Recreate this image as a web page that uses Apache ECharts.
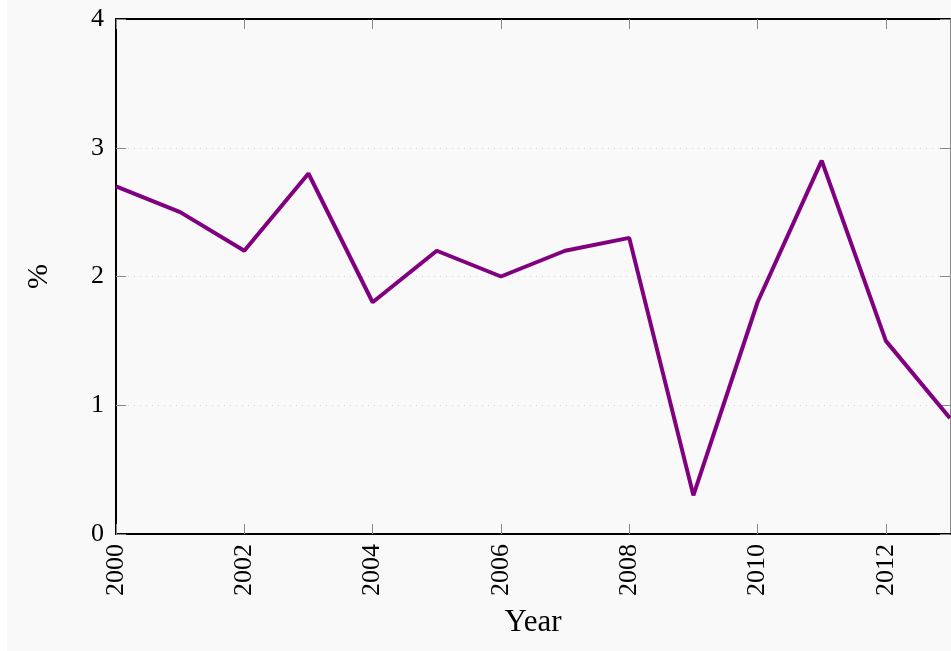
<!DOCTYPE html>
<html>
<head>
<meta charset="utf-8">
<script src="https://cdn.jsdelivr.net/npm/echarts@6/dist/echarts.min.js"></script>
<style>
  html, body { margin: 0; padding: 0; background: #ffffff; }
  #chart { position: absolute; left: 7px; top: 0; width: 944px; height: 651px; }
</style>
</head>
<body>
<div id="chart"></div>
<script>
// data
const years = [2000, 2001, 2002, 2003, 2004, 2005, 2006, 2007, 2008, 2009, 2010, 2011, 2012, 2013];
const values = [2.7, 2.5, 2.2, 2.8, 1.8, 2.2, 2.0, 2.2, 2.3, 0.3, 1.8, 2.9, 1.5, 0.9];
const yTicks = [0, 1, 2, 3, 4];

const serif = '"Liberation Serif", "DejaVu Serif", serif';
const chart = echarts.init(document.getElementById('chart'));

const tickStyle = { show: true, inside: true, length: 10, lineStyle: { color: '#888', width: 1 } };

chart.setOption({
  backgroundColor: '#f9f9f9',
  animation: false,
  grid: { left: 109, right: 1, top: 19, bottom: 117 },
  xAxis: [
    {
      type: 'value',
      min: years[0],
      max: years[years.length - 1],
      interval: 2,
      name: 'Year',
      nameLocation: 'middle',
      nameGap: 73,
      nameTextStyle: { fontFamily: serif, fontSize: 31, color: '#000' },
      axisLine: { show: true, onZero: false, lineStyle: { color: '#000', width: 2 } },
      axisTick: tickStyle,
      splitLine: { show: false },
      axisLabel: {
        rotate: 90,
        margin: 10,
        showMaxLabel: false,
        fontFamily: serif,
        fontSize: 26,
        color: '#000',
        formatter: v => String(v)
      }
    },
    {
      type: 'value',
      position: 'top',
      min: years[0],
      max: years[years.length - 1],
      interval: 2,
      axisLine: { show: true, onZero: false, lineStyle: { color: '#000', width: 2 } },
      axisTick: tickStyle,
      axisLabel: { show: false },
      splitLine: { show: false }
    }
  ],
  yAxis: [
    {
      type: 'value',
      min: yTicks[0],
      max: yTicks[yTicks.length - 1],
      interval: 1,
      name: '%',
      nameLocation: 'middle',
      nameGap: 62,
      nameTextStyle: { fontFamily: serif, fontSize: 30, color: '#000' },
      axisLine: { show: true, onZero: false, lineStyle: { color: '#000', width: 2 } },
      axisTick: tickStyle,
      axisLabel: { margin: 12, fontFamily: serif, fontSize: 26, color: '#000' },
      splitLine: { show: true, lineStyle: { color: '#d4d4d4', width: 1, type: [1, 5] } }
    },
    {
      type: 'value',
      position: 'right',
      min: yTicks[0],
      max: yTicks[yTicks.length - 1],
      interval: 1,
      axisLine: { show: true, onZero: false, lineStyle: { color: '#888', width: 1 } },
      axisTick: tickStyle,
      axisLabel: { show: false },
      splitLine: { show: false }
    }
  ],
  series: [
    {
      type: 'line',
      data: years.map((y, i) => [y, values[i]]),
      showSymbol: false,
      lineStyle: { color: '#800080', width: 4 },
      itemStyle: { color: '#800080' }
    }
  ]
});
</script>
</body>
</html>
